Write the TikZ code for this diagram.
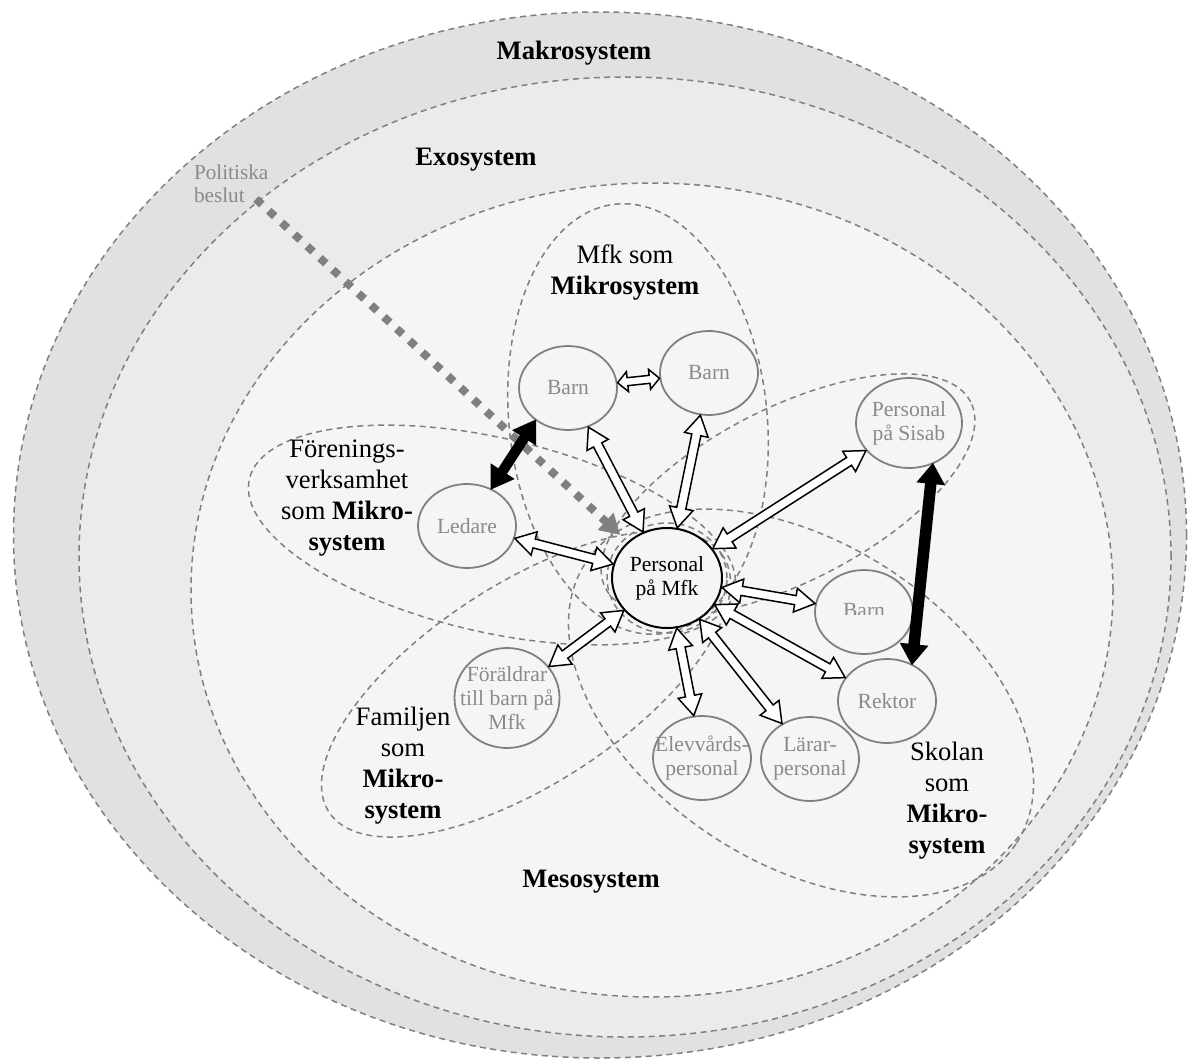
\documentclass[tikz,border=0pt]{standalone}
\usepackage{fontspec}
\setmainfont{Liberation Serif}
\usetikzlibrary{calc,arrows.meta,shapes.geometric}

\definecolor{bandA}{HTML}{E1E1E1}
\definecolor{bandB}{HTML}{EBEBEB}
\definecolor{bandC}{HTML}{F5F5F5}
\definecolor{lineg}{HTML}{808080}
\definecolor{textg}{HTML}{8A8A8A}

\tikzset{
  sysline/.style={draw=lineg, line width=0.75pt, dash pattern=on 3pt off 2.2pt},
  actor/.style={ellipse, draw=lineg, line width=0.9pt, fill=bandC,
    inner sep=0pt, minimum width=49pt, minimum height=42pt},
  actortext/.style={text=textg, align=center, inner sep=0pt,
    font=\fontsize{10.8}{12}\selectfont},
  hub/.style={actor, draw=black, line width=1pt,
    minimum width=55pt, minimum height=50pt},
  hubtext/.style={actortext, text=black},
  syslabel/.style={align=center, font=\fontsize{13.3}{15.5}\selectfont},
  smalllabel/.style={align=left, text=textg, font=\fontsize{10.6}{11.5}\selectfont},
}

% block arrow with a head at both ends:
% #1 fill, #2 from, #3 to, #4 half shaft width, #5 half head width, #6 head length
\newcommand\twoway[6]{%
  \path #2 -- #3 coordinate[pos=0] (tw-s) coordinate[pos=1] (tw-e);
  \path ($(tw-s)!#6!(tw-e)$) coordinate (tw-hs) ($(tw-e)!#6!(tw-s)$) coordinate (tw-he);
  \filldraw[fill=#1, draw=black, line width=0.75pt, line join=miter]
    (tw-s) -- ($(tw-hs)!#5!-90:(tw-e)$) -- ($(tw-hs)!#4!-90:(tw-e)$)
    -- ($(tw-he)!#4!90:(tw-s)$) -- ($(tw-he)!#5!90:(tw-s)$) -- (tw-e)
    -- ($(tw-he)!#5!-90:(tw-s)$) -- ($(tw-he)!#4!-90:(tw-s)$)
    -- ($(tw-hs)!#4!90:(tw-e)$) -- ($(tw-hs)!#5!90:(tw-e)$) -- cycle;
}

\begin{document}
\begin{tikzpicture}[x=0.5pt, y=-0.5pt]
\useasboundingbox (0,0) rectangle (1188,1059);

% nested system rings
\filldraw[sysline, fill=bandA] (600,535) ellipse [x radius=293.25pt, y radius=261.5pt];
\filldraw[sysline, fill=bandB] (625,557) ellipse [x radius=273pt, y radius=240pt];
\filldraw[sysline, fill=bandC] (652,590) ellipse [x radius=230.5pt, y radius=203.5pt];

% the five microsystems
\draw[sysline, rotate around={6:(638,419)}] (638,419) ellipse [x radius=64.5pt, y radius=108pt];
\draw[sysline, rotate around={-13:(492,535)}] (492,535) ellipse [x radius=124.5pt, y radius=48.5pt];
\draw[sysline, rotate around={33:(526,684)}] (526,684) ellipse [x radius=117.5pt, y radius=50pt];
\draw[sysline, rotate around={-33:(801,703)}] (801,703) ellipse [x radius=128.5pt, y radius=80pt];
\draw[sysline, rotate around={27:(788,495)}] (788,495) ellipse [x radius=102.5pt, y radius=43.5pt];
\draw[sysline] (667,578) ellipse [x radius=30pt, y radius=27.5pt];

% system labels
\node[syslabel] (makro) at (574,53) {\textbf{Makrosystem}};
\node[syslabel] (exo) at (476,160) {\textbf{Exosystem}};
\node[syslabel] (meso) at (591,882) {\textbf{Mesosystem}};
\node[syslabel] (mfklab) at (625,273) {Mfk som\\\textbf{Mikrosystem}};
\node[syslabel] (forlab) at (347,498) {Förenings-\\verksamhet\\som \textbf{Mikro-}\\\textbf{system}};
\node[syslabel] (famlab) at (403,766) {Familjen\\som\\\textbf{Mikro-}\\\textbf{system}};
\node[syslabel] (skolab) at (947,801) {Skolan\\som\\\textbf{Mikro-}\\\textbf{system}};
\node[smalllabel, anchor=west] (pol) at (187,184) {Politiska\\beslut};

% actors
\node[actor, label={[actortext]center:Barn}] (b1) at (568,388) {};
\node[actor, label={[actortext]center:Barn}] (b2) at (709,373) {};
\node[actor, label={[actortext]center:Ledare}] (led) at (467,526) {};
\node[actor, minimum width=53pt, minimum height=45pt,
  label={[actortext]center:{Personal\\på Sisab}}] (sis) at (909,423) {};
\node[actor] (b3) at (864,612) {};
\begin{scope}
  \clip (815,560) rectangle (913,614);
  \node[actortext] (b3txt) at (864,611) {Barn};
\end{scope}
\node[actor, label={[actortext]center:Rektor}] (rek) at (887,701) {};
\node[actor, label={[actortext]center:{Lärar-\\personal}}] (lar) at (810,759) {};
\node[actor, label={[actortext]center:{Elevvårds-\\personal}}] (elev) at (702,758) {};
\node[actor, minimum width=52.5pt, minimum height=50pt,
  label={[actortext]center:{Föräldrar\\till barn på\\Mfk}}] (par) at (507,698) {};
\node[hub, label={[hubtext]center:{Personal\\på Mfk}}] (pm) at (667,578) {};

% political decisions reaching the staff
\coordinate (polstart) at (256,199);
\draw[lineg, line width=4pt, dash pattern=on 4pt off 4.7pt,
  -{Triangle[length=10pt, width=11pt]}, shorten >=5pt] (polstart) -- (pm);

% relations
\twoway{white}{(b1)}{(b2)}{2pt}{5pt}{5pt}
\twoway{white}{(b1)}{(pm)}{2.3pt}{6pt}{10pt}
\twoway{white}{(b2)}{(pm)}{2.3pt}{6pt}{10pt}
\twoway{white}{(led)}{(pm)}{2.3pt}{6pt}{10pt}
\twoway{white}{(sis)}{(pm)}{2.3pt}{6pt}{10pt}
\twoway{white}{(b3)}{(pm)}{2.3pt}{6pt}{10pt}
\twoway{white}{(rek)}{(pm)}{2.3pt}{6pt}{10pt}
\twoway{white}{(lar)}{(pm)}{2.3pt}{6pt}{10pt}
\twoway{white}{(elev)}{(pm)}{2.3pt}{6pt}{10pt}
\twoway{white}{(par)}{(pm)}{2.3pt}{6pt}{10pt}
\twoway{black}{(b1.-135)}{(led.57)}{2.2pt}{6.5pt}{10pt}
\twoway{black}{(sis.-60)}{(rek.56)}{2.5pt}{6.5pt}{9.5pt}
\end{tikzpicture}
\end{document}
